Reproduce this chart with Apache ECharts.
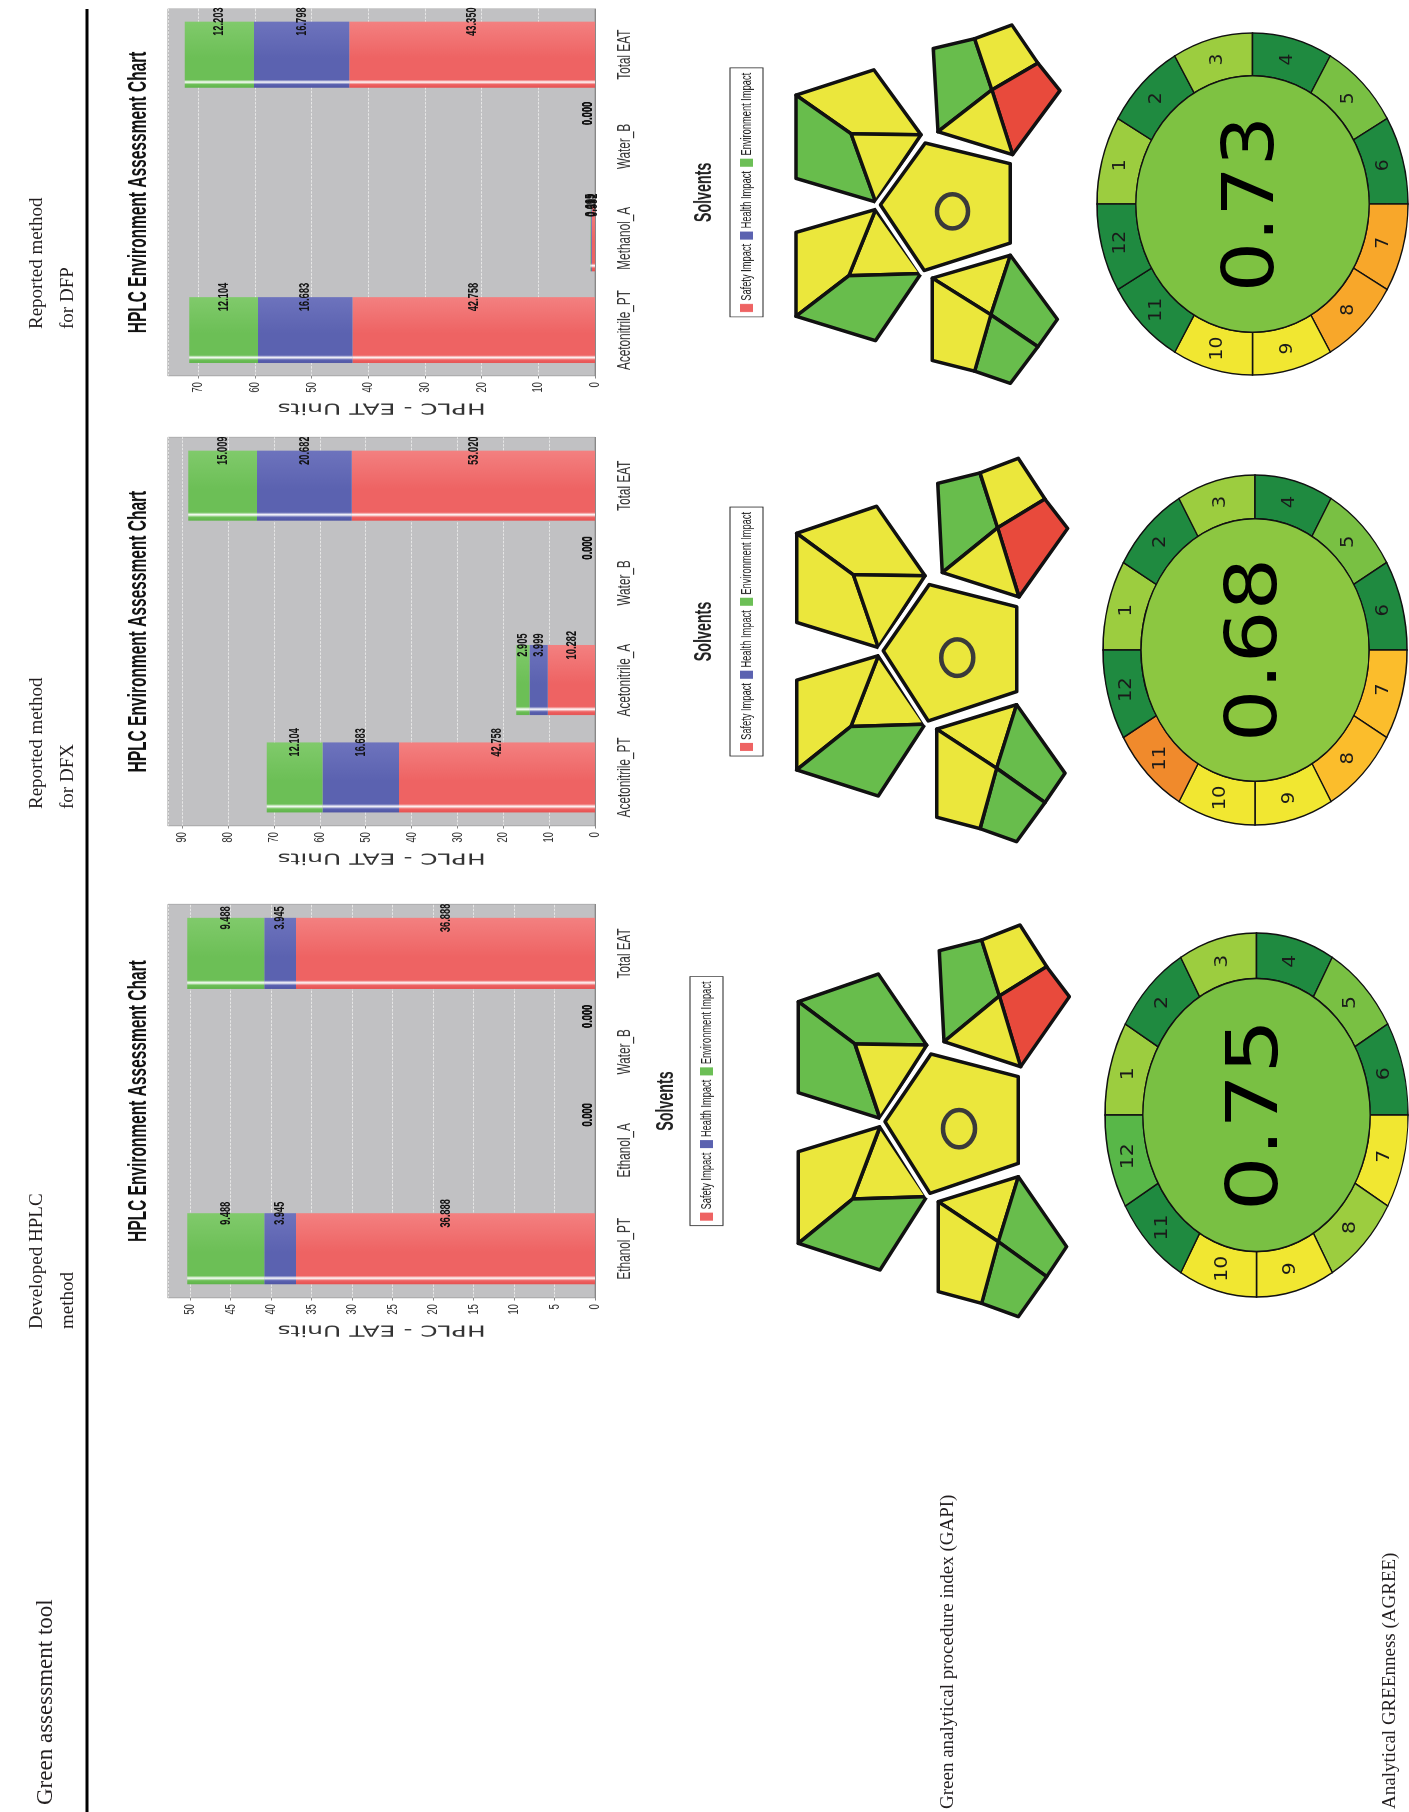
<!DOCTYPE html>
<html>
<head>
<meta charset="utf-8">
<script src="https://cdn.jsdelivr.net/npm/echarts@6/dist/echarts.min.js"></script>
<style>
html,body{margin:0;padding:0;background:#fff;overflow:hidden;width:1409px;height:1812px;}
#root{position:absolute;left:0;top:0;width:1812px;height:1409px;transform-origin:0 0;transform:translate(0px,1812px) rotate(-90deg);}
.bar{position:absolute;transform-origin:0 0;}
</style>
</head>
<body>
<div id="root">
  <div id="main" style="position:absolute;left:0;top:0;width:1812px;height:1409px;"></div>
  <div id="c1" class="bar"></div>
  <div id="c2" class="bar"></div>
  <div id="c3" class="bar"></div>
</div>
<script>
// ---------------- DATA ----------------
const columnHeaders = ['Developed HPLC\nmethod', 'Reported method\nfor DFX', 'Reported method\nfor DFP'];
const rowHeader = 'Green assessment tool';
const rowLabels = ['Green analytical procedure index (GAPI)', 'Analytical GREEnness (AGREE)'];

const seriesNames = ['Safety Impact', 'Health Impact', 'Environment Impact'];

const cats1 = ['Ethanol_PT', 'Ethanol_A', 'Water_B', 'Total EAT'];
const safety1 = [36.888, 0, 0, 36.888];
const health1 = [3.945, 0, 0, 3.945];
const env1 = [9.488, 0, 0, 9.488];

const cats2 = ['Acetonitrile_PT', 'Acetonitrile_A', 'Water_B', 'Total EAT'];
const safety2 = [42.758, 10.282, 0, 53.020];
const health2 = [16.683, 3.999, 0, 20.682];
const env2 = [12.104, 2.905, 0, 15.009];

const cats3 = ['Acetonitrile_PT', 'Methanol_A', 'Water_B', 'Total EAT'];
const safety3 = [42.758, 0.592, 0, 43.350];
const health3 = [16.683, 0.115, 0, 16.798];
const env3 = [12.104, 0.099, 0, 12.203];

// GAPI field ratings (g = green, y = yellow, r = red)
const gapiDeveloped = ['g','g','y','y','y','g','g','y','r','y','y','g','g','y','y'];
const gapiDFX       = ['y','y','y','y','y','g','g','y','r','y','y','g','g','y','y'];
const gapiDFP       = ['y','g','y','y','y','g','g','y','r','y','y','g','g','y','y'];

// AGREE segment scores (1..12) and totals
const agreeDeveloped = [0.62, 1, 0.62, 1, 0.75, 1, 0.5, 0.62, 0.5, 0.5, 1, 0.85];
const agreeDFX       = [0.62, 1, 0.62, 1, 0.75, 1, 0.42, 0.42, 0.5, 0.5, 0.25, 1];
const agreeDFP       = [0.62, 1, 0.62, 1, 0.75, 1, 0.35, 0.35, 0.5, 0.5, 1, 1];
const agreeTotals    = [0.75, 0.68, 0.73];

// ---------------- STYLE / LAYOUT ----------------
const SQ = 0.62;
const SERIF = "'Liberation Serif','DejaVu Serif',serif";
const NARROW = "'Liberation Sans Narrow','Liberation Sans','DejaVu Sans Condensed',sans-serif";
const GAPI_COLORS = { g: '#68bd4c', y: '#ebe73c', r: '#e84a3c' };
const GAPI_CODES = ['g', 'y', 'r'];
const AGREE_STOPS = [[0,'#e3302b'],[0.25,'#f08a2c'],[0.35,'#f8a72a'],[0.42,'#fbbd2c'],[0.5,'#f1e731'],[0.62,'#9ccd3f'],[0.75,'#79c043'],[0.85,'#58b748'],[1,'#1f8a40']];

function hexRgb(h){ return [parseInt(h.slice(1,3),16), parseInt(h.slice(3,5),16), parseInt(h.slice(5,7),16)]; }
function agreeColor(s){
  for (let i = 1; i < AGREE_STOPS.length; i++) {
    const [s1, c1] = AGREE_STOPS[i];
    const [s0, c0] = AGREE_STOPS[i-1];
    if (s <= s1) {
      const t = (s - s0) / (s1 - s0);
      const a = hexRgb(c0), b = hexRgb(c1);
      return 'rgb(' + a.map((v, k) => Math.round(v + (b[k] - v) * t)).join(',') + ')';
    }
  }
  return AGREE_STOPS[AGREE_STOPS.length-1][1];
}

// GAPI template geometry (local units)
const GAPI_TEMPLATE = [
  [[85,305],[325,222],[470,435],[255,432]],
  [[85,305],[255,432],[330,655],[85,578]],
  [[255,432],[470,435],[330,655]],
  [[330,680],[470,890],[248,897]],
  [[330,680],[248,897],[85,1030],[85,755]],
  [[248,897],[470,890],[330,1110],[85,1030]],
  [[508,152],[635,120],[688,288],[522,425]],
  [[635,120],[750,75],[830,200],[688,288]],
  [[688,288],[830,200],[898,290],[752,500]],
  [[522,425],[688,288],[752,500]],
  [[505,905],[745,830],[685,1025]],
  [[745,830],[890,1040],[830,1130],[685,1025]],
  [[685,1025],[830,1130],[745,1250],[635,1210]],
  [[505,905],[685,1025],[635,1210],[505,1175]],
  [[483,462],[745,530],[745,790],[480,880],[345,665]]
];
const GAPI_PLACE = [
  {ax: 770, bx: 1/3, ay: 900, by: 1/3},
  {ax: 768.3, bx: 1/3, ay: 433.8, by: 0.3263},
  {ax: 768.4, bx: 0.3247, ay: 2.1, by: 0.305}
];
function gapiPt(m, X, Y){ const P = GAPI_PLACE[m]; return [1812 - (P.ay + P.by * Y), P.ax + P.bx * X]; }

const AGREE_PLACE = [
  {cx: 697, cy: 1256.5, r: 151.5, sx: 182/151.5},
  {cx: 1162, cy: 1255, r: 152, sx: 175/152},
  {cx: 1608, cy: 1252.5, r: 155.5, sx: 171/155.5}
];

// ---------------- MAIN (table, GAPI, AGREE) ----------------
const gapiSets = [gapiDeveloped, gapiDFX, gapiDFP];
const gapiData = [];
gapiSets.forEach((set, m) => set.forEach((code, f) => gapiData.push([m, f, GAPI_CODES.indexOf(code)])));

const agreeSets = [agreeDeveloped, agreeDFX, agreeDFP];
const agreeSegData = [];
agreeSets.forEach((set, m) => set.forEach((s, i) => agreeSegData.push([m, i + 1, s])));
const agreeCenterData = agreeTotals.map((s, m) => [m, s]);

function renderGapi(params, api){
  const m = api.value(0), f = api.value(1), c = api.value(2);
  const pts = GAPI_TEMPLATE[f].map(p => gapiPt(m, p[0], p[1]));
  const fill = GAPI_COLORS[GAPI_CODES[c]];
  const poly = {type: 'polygon', shape: {points: pts}, style: {fill: fill, stroke: '#111', lineWidth: 3.5, lineJoin: 'round'}};
  if (f === GAPI_TEMPLATE.length - 1) {
    const P = GAPI_PLACE[m];
    const ctr = gapiPt(m, 567, 686);
    return {type: 'group', children: [
      {type: 'polygon', shape: {points: pts}, style: {fill: 'none', stroke: '#fff', lineWidth: 11, lineJoin: 'round'}},
      poly,
      {type: 'ellipse', shape: {cx: ctr[0], cy: ctr[1], rx: 56 * P.by, ry: 48 * P.bx}, style: {fill: 'none', stroke: '#3a3a3a', lineWidth: 4.5}}
    ]};
  }
  return poly;
}

function renderAgreeSeg(params, api){
  const m = api.value(0), i = api.value(1), s = api.value(2);
  const L = AGREE_PLACE[m];
  const a0 = -Math.PI / 2 + (i - 1) * Math.PI / 6, a1 = a0 + Math.PI / 6, am = (a0 + a1) / 2;
  const R = L.r, r0 = R * 0.75, rm = (R + r0) / 2;
  return {type: 'group', x: L.cx, y: L.cy, scaleX: L.sx, children: [
    {type: 'sector', shape: {cx: 0, cy: 0, r: R, r0: r0, startAngle: a0, endAngle: a1, clockwise: true},
     style: {fill: agreeColor(s), stroke: '#111', lineWidth: 1.3, strokeNoScale: true}},
    {type: 'text', x: rm * Math.cos(am), y: rm * Math.sin(am),
     style: {text: String(i), fill: '#1a1a1a', fontSize: 17, fontFamily: "'DejaVu Sans',sans-serif", align: 'center', verticalAlign: 'middle'}}
  ]};
}

function renderAgreeCenter(params, api){
  const m = api.value(0), s = api.value(1);
  const L = AGREE_PLACE[m];
  return {type: 'group', x: L.cx, y: L.cy, scaleX: L.sx, children: [
    {type: 'circle', shape: {cx: 0, cy: 0, r: L.r * 0.75}, style: {fill: agreeColor(s), stroke: '#111', lineWidth: 1.3, strokeNoScale: true}},
    {type: 'text', x: 0, y: 2, style: {text: s.toFixed(2), fill: '#000', fontSize: 72, fontFamily: "'DejaVu Sans',sans-serif", align: 'center', verticalAlign: 'middle'}}
  ]};
}

const headerX = [483, 1003, 1483];
const textEls = [
  {type: 'line', shape: {x1: 0, y1: 87, x2: 1803, y2: 87}, style: {stroke: '#000', lineWidth: 3}},
  {type: 'text', x: 7, y: 46, style: {text: rowHeader, fill: '#231f20', font: '23px ' + SERIF, align: 'left', verticalAlign: 'middle'}},
  {type: 'text', x: 3, y: 948, style: {text: rowLabels[0], fill: '#231f20', font: '19px ' + SERIF, align: 'left', verticalAlign: 'middle'}},
  {type: 'text', x: 3, y: 1390, style: {text: rowLabels[1], fill: '#231f20', font: '19px ' + SERIF, align: 'left', verticalAlign: 'middle'}}
];
columnHeaders.forEach((t, k) => {
  textEls.push({type: 'text', x: headerX[k], y: 53, style: {text: t, fill: '#231f20', fontSize: 19, fontFamily: SERIF, lineHeight: 31, align: 'left', verticalAlign: 'middle'}});
});

const main = echarts.init(document.getElementById('main'));
main.setOption({
  animation: false,
  graphic: {elements: textEls},
  series: [
    {type: 'custom', coordinateSystem: 'none', renderItem: renderGapi, data: gapiData, silent: true},
    {type: 'custom', coordinateSystem: 'none', renderItem: renderAgreeSeg, data: agreeSegData, silent: true},
    {type: 'custom', coordinateSystem: 'none', renderItem: renderAgreeCenter, data: agreeCenterData, silent: true}
  ]
});

// ---------------- BAR CHARTS ----------------
const BAR_COLORS = [
  {base: '#ee6363', light: '#f38080', dark: '#e65050'},
  {base: '#5b62b0', light: '#6d73bd', dark: '#4f55a3'},
  {base: '#6cbf56', light: '#80ca6b', dark: '#5fb34b'}
];
function grad(c){
  return {type: 'linear', x: 0, y: 0, x2: 1, y2: 0, colorStops: [
    {offset: 0, color: c.dark}, {offset: 0.05, color: c.base}, {offset: 0.085, color: '#ffffff'},
    {offset: 0.12, color: c.base}, {offset: 0.45, color: c.base}, {offset: 1, color: c.light}
  ]};
}

function buildBar(id, cats, s, h, e, cfg){
  const el = document.getElementById(id);
  const side = 74 / SQ;
  const gridWU = cfg.gridW / SQ;
  const W = gridWU + 2 * side;
  el.style.left = (cfg.gridLeft - 74) + 'px';
  el.style.top = '100px';
  el.style.width = W + 'px';
  el.style.height = '700px';
  el.style.transform = 'scaleX(' + SQ + ')';
  const chart = echarts.init(el);
  const mk = (name, vals, k) => ({
    name: name, type: 'bar', stack: 'eat', barWidth: '72%',
    data: vals.map(v => v === 0 ? {value: 0, label: {verticalAlign: 'bottom'}} : v),
    itemStyle: {color: grad(BAR_COLORS[k])},
    label: {show: true, position: 'right', distance: 0, align: 'center', verticalAlign: 'middle',
      formatter: p => Number(p.value).toFixed(3), fontSize: 15, fontWeight: 'bold', color: '#111', fontFamily: NARROW},
    emphasis: {disabled: true}
  });
  chart.setOption({
    animation: false,
    textStyle: {fontFamily: NARROW},
    title: {text: 'HPLC Environment Assessment Chart', left: 'center', top: 22,
      textStyle: {fontSize: 25, fontWeight: 'bold', color: '#111', fontFamily: NARROW}},
    legend: {top: cfg.legendTop, left: 'center', icon: 'rect', itemWidth: 13, itemHeight: 13, itemGap: 7,
      borderColor: '#222', borderWidth: 1.2, padding: [9, 8],
      textStyle: {fontSize: 15, color: '#222', fontFamily: NARROW},
      data: seriesNames.map((n, k) => ({name: n, itemStyle: {color: BAR_COLORS[k].base}}))},
    grid: {left: side, right: side, top: 68, height: 427, show: true, backgroundColor: '#c1c1c3', borderColor: '#999', borderWidth: 1},
    xAxis: {type: 'category', data: cats, offset: 6,
      axisLine: {lineStyle: {color: '#888'}}, axisTick: {alignWithLabel: true, length: 4, lineStyle: {color: '#888'}},
      axisLabel: {fontSize: 19, color: '#333', margin: 14, fontFamily: NARROW, interval: 0, hideOverlap: false},
      name: 'Solvents', nameLocation: 'middle', nameGap: cfg.nameGap,
      nameTextStyle: {fontSize: 23, fontWeight: 'bold', color: '#222', fontFamily: NARROW}},
    yAxis: {type: 'value', min: 0, max: cfg.max, interval: cfg.interval,
      axisLine: {show: true, lineStyle: {color: '#888'}}, axisTick: {show: true, length: 4, lineStyle: {color: '#888'}},
      axisLabel: {fontSize: 15, color: '#333', margin: 10, showMaxLabel: false, fontFamily: NARROW},
      splitLine: {lineStyle: {color: '#e6e6e6', type: 'dashed'}},
      name: 'HPLC - EAT Units', nameLocation: 'middle', nameGap: 38, nameRotate: 90,
      nameTextStyle: {fontSize: 25, color: '#333', fontFamily: "'DejaVu Sans',sans-serif"}},
    series: [mk(seriesNames[0], s, 0), mk(seriesNames[1], h, 1), mk(seriesNames[2], e, 2)]
  });
}

buildBar('c1', cats1, safety1, health1, env1, {gridLeft: 514, gridW: 394, max: 52.7, interval: 5, legendTop: 590, nameGap: 54});
buildBar('c2', cats2, safety2, health2, env2, {gridLeft: 986, gridW: 389, max: 93.1, interval: 10, legendTop: 630, nameGap: 92});
buildBar('c3', cats3, safety3, health3, env3, {gridLeft: 1436, gridW: 367, max: 75.3, interval: 10, legendTop: 630, nameGap: 92});
</script>
</body>
</html>
